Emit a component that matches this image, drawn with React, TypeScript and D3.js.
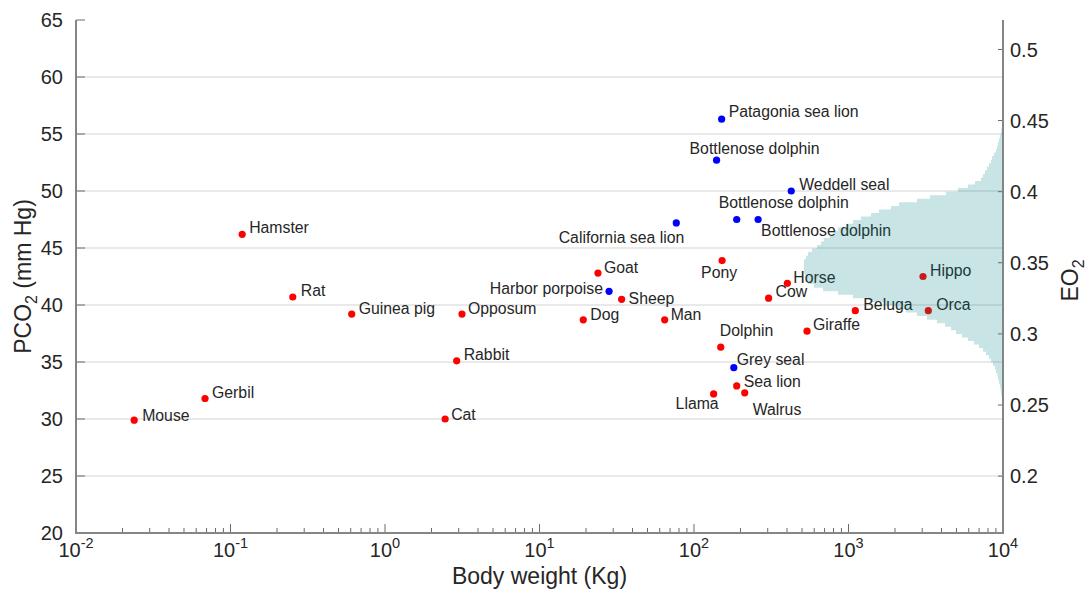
import React, { useEffect, useRef } from "react";
import * as d3 from "d3";

// Terrestrial / non-diving species (red)
const redNames = ["Mouse", "Gerbil", "Hamster", "Rat", "Guinea pig", "Cat", "Rabbit", "Opposum", "Dog", "Goat", "Sheep", "Man", "Pony", "Horse", "Cow", "Dolphin", "Sea lion", "Walrus", "Llama", "Giraffe", "Hippo", "Beluga", "Orca"];
const redWeights = [0.0238, 0.0684, 0.119, 0.253, 0.609, 2.45, 2.91, 3.15, 19.2, 23.9, 34.0, 64.6, 152, 402, 304, 149, 189, 213, 134, 539, 3035, 1107, 3284];
const redPco2 = [29.9, 31.8, 46.2, 40.7, 39.2, 30.0, 35.1, 39.2, 38.7, 42.8, 40.5, 38.7, 43.9, 41.9, 40.6, 36.3, 32.9, 32.3, 32.2, 37.7, 42.5, 39.5, 39.5];

// Diving species (blue)
const blueNames = ["Patagonia sea lion", "Bottlenose dolphin", "Weddell seal", "Bottlenose dolphin", "Bottlenose dolphin", "California sea lion", "Harbor porpoise", "Grey seal"];
const blueWeights = [151, 140, 426, 189, 260, 76.8, 28.2, 181];
const bluePco2 = [56.3, 52.7, 50.0, 47.5, 47.5, 47.2, 41.2, 34.5];

// Label placement: [text-anchor, dx, dy] relative to each point
const redLabelPlacement: [string, number, number][] = [
  ["start", 8, 1], ["start", 7, 0], ["start", 7, -1], ["start", 8, -1], ["start", 7, 0],
  ["start", 6, 1], ["start", 7, -1], ["start", 6, 0], ["start", 7, 0], ["start", 6, 0],
  ["start", 7, 5], ["start", 6, 0], ["start", -21, 17], ["start", 6, 0], ["start", 7, -1],
  ["start", -1, -11], ["start", 7, 1], ["start", 8, 22], ["end", 5, 15], ["start", 6, -1],
  ["start", 7, -1], ["start", 8, -1], ["start", 8, -1],
];
const blueLabelPlacement: [string, number, number][] = [
  ["start", 7, -2], ["start", -27, -6], ["start", 8, -1], ["start", -18, -12],
  ["start", 3, 16], ["end", 8, 20], ["end", -6, 3], ["start", 3, -3],
];

// EO2 distribution, bins of 0.0025 starting at 0.25 (bottom to top)
const eo2BinStart = 0.25;
const eo2BinWidth = 0.0025;
const eo2Counts = [
  0.5, 1, 1.5, 2, 2.5, 3, 4, 5, 5.5, 7,
  8, 10, 12, 14, 17, 20, 24, 29, 35, 41,
  47, 52, 58, 66, 76, 86, 97, 106, 119, 133,
  150, 165, 180, 189, 195, 197, 198, 199, 199, 199,
  199, 197, 195, 191, 186, 182, 179, 173, 169, 165,
  157, 150, 142, 132, 124, 112, 104, 86, 73, 57,
  45, 35, 28, 22, 20, 18, 16, 14, 12, 11,
  9, 7, 6, 5, 4, 3, 2, 1.5, 1, 0.5,
];

const pco2Ticks = [20, 25, 30, 35, 40, 45, 50, 55, 60, 65];
const eo2Ticks = [0.2, 0.25, 0.3, 0.35, 0.4, 0.45, 0.5];
const weightExponents = [-2, -1, 0, 1, 2, 3, 4];

const W = 1089;
const H = 593;
const FONT = "'Liberation Sans', Arial, Helvetica, sans-serif";

export default function App() {
  const ref = useRef<SVGSVGElement | null>(null);

  useEffect(() => {
    const svg = d3.select(ref.current);
    svg.selectAll("*").remove();

    const left = 76, right = 1003, top = 20, bottom = 533;
    const x = d3.scaleLog().domain([1e-2, 1e4]).range([left, right]);
    const y = d3.scaleLinear().domain([20, 65]).range([bottom, top]);
    const yR = d3.scaleLinear().domain([0.16, 0.5207]).range([bottom, top]);
    const hw = d3.scaleLinear().domain([0, 200]).range([0, 200]);

    const axisColor = "#858585";
    const textColor = "#262626";
    const tickFont = 20;

    // horizontal grid
    svg.append("g")
      .selectAll("line")
      .data(pco2Ticks.filter((t) => t > 20 && t < 65))
      .join("line")
      .attr("x1", left).attr("x2", right)
      .attr("y1", (d) => y(d)).attr("y2", (d) => y(d))
      .attr("stroke", "#e2e2e2").attr("stroke-width", 1.3);

    // left axis
    const gl = svg.append("g");
    gl.selectAll("line.tick")
      .data(pco2Ticks)
      .join("line")
      .attr("x1", left).attr("x2", left + 9)
      .attr("y1", (d) => y(d)).attr("y2", (d) => y(d))
      .attr("stroke", "#6a6a6a").attr("stroke-width", 1);
    gl.selectAll("text")
      .data(pco2Ticks)
      .join("text")
      .attr("x", left - 13).attr("y", (d) => y(d)).attr("dy", "0.36em")
      .attr("text-anchor", "end")
      .attr("font-family", FONT).attr("font-size", tickFont).attr("fill", textColor)
      .text((d) => String(d));

    // bottom axis ticks
    const gb = svg.append("g");
    const minor: number[] = [];
    weightExponents.slice(0, -1).forEach((e) => {
      for (let k = 2; k <= 9; k++) minor.push(k * Math.pow(10, e));
    });
    gb.selectAll("line.minor")
      .data(minor)
      .join("line")
      .attr("x1", (d) => x(d)).attr("x2", (d) => x(d))
      .attr("y1", bottom).attr("y2", bottom - 5)
      .attr("stroke", "#6a6a6a").attr("stroke-width", 1);
    gb.selectAll("line.major")
      .data(weightExponents)
      .join("line")
      .attr("x1", (d) => x(Math.pow(10, d))).attr("x2", (d) => x(Math.pow(10, d)))
      .attr("y1", bottom).attr("y2", bottom - 9)
      .attr("stroke", "#6a6a6a").attr("stroke-width", 1);
    const lbl = gb.selectAll("text")
      .data(weightExponents)
      .join("text")
      .attr("x", (d) => x(Math.pow(10, d))).attr("y", 557)
      .attr("text-anchor", "middle")
      .attr("font-family", FONT).attr("font-size", tickFont).attr("fill", textColor);
    lbl.append("tspan").text("10");
    lbl.append("tspan").attr("dy", -9).attr("font-size", 14.5).text((d) => String(d));

    // points
    const drawSeries = (names: string[], ws: number[], ps: number[], place: [string, number, number][], color: string) => {
      const g = svg.append("g");
      g.selectAll("circle")
        .data(names.map((n, i) => i))
        .join("circle")
        .attr("cx", (i) => x(ws[i])).attr("cy", (i) => y(ps[i]))
        .attr("r", 3.6).attr("fill", color);
      g.selectAll("text")
        .data(names.map((n, i) => i))
        .join("text")
        .attr("x", (i) => x(ws[i]) + place[i][1])
        .attr("y", (i) => y(ps[i]) + place[i][2])
        .attr("text-anchor", (i) => place[i][0])
        .attr("font-family", FONT).attr("font-size", 15.8).attr("fill", textColor)
        .text((i) => names[i]);
    };
    drawSeries(redNames, redWeights, redPco2, redLabelPlacement, "#ff0000");
    drawSeries(blueNames, blueWeights, bluePco2, blueLabelPlacement, "#0000ff");

    // EO2 distribution along the right axis
    const p = d3.path();
    p.moveTo(right, yR(eo2BinStart));
    eo2Counts.forEach((c, i) => {
      const lo = eo2BinStart + i * eo2BinWidth;
      const hi = lo + eo2BinWidth;
      p.lineTo(right - hw(c), yR(lo));
      p.lineTo(right - hw(c), yR(hi));
    });
    p.lineTo(right, yR(eo2BinStart + eo2Counts.length * eo2BinWidth));
    p.closePath();
    svg.append("path").attr("d", p.toString())
      .attr("fill", "#008080").attr("fill-opacity", 0.21);

    // right axis
    const gr = svg.append("g");
    gr.selectAll("line")
      .data(eo2Ticks)
      .join("line")
      .attr("x1", right - 5).attr("x2", right)
      .attr("y1", (d) => yR(d)).attr("y2", (d) => yR(d))
      .attr("stroke", "#6a6a6a").attr("stroke-width", 1);
    gr.selectAll("text")
      .data(eo2Ticks)
      .join("text")
      .attr("x", right + 7).attr("y", (d) => yR(d)).attr("dy", "0.36em")
      .attr("text-anchor", "start")
      .attr("font-family", FONT).attr("font-size", tickFont).attr("fill", textColor)
      .text((d) => String(+d.toFixed(2)));

    // axis lines
    svg.append("path")
      .attr("d", `M${left},${top}V${bottom}H${right}V${top}`)
      .attr("fill", "none").attr("stroke", axisColor).attr("stroke-width", 2);

    // titles
    const titleFont = 23;
    svg.append("text")
      .attr("x", (left + right) / 2).attr("y", 584)
      .attr("text-anchor", "middle")
      .attr("font-family", FONT).attr("font-size", titleFont).attr("fill", textColor)
      .text("Body weight (Kg)");

    const yt = svg.append("text")
      .attr("transform", `translate(31,${(top + bottom) / 2}) rotate(-90)`)
      .attr("text-anchor", "middle")
      .attr("font-family", FONT).attr("font-size", titleFont).attr("fill", textColor);
    yt.append("tspan").text("PCO");
    yt.append("tspan").attr("font-size", 16).attr("dy", 6).text("2");
    yt.append("tspan").attr("dy", -6).text(" (mm Hg)");

    const rt = svg.append("text")
      .attr("transform", `translate(1078,${(top + bottom) / 2 + 4}) rotate(-90)`)
      .attr("text-anchor", "middle")
      .attr("font-family", FONT).attr("font-size", titleFont).attr("fill", textColor);
    rt.append("tspan").text("EO");
    rt.append("tspan").attr("font-size", 16).attr("dy", 6).text("2");
  }, []);

  return (
    <svg
      ref={ref}
      width={W}
      height={H}
      viewBox={`0 0 ${W} ${H}`}
      style={{ position: "absolute", left: 0, top: 0, background: "#fff" }}
    />
  );
}
